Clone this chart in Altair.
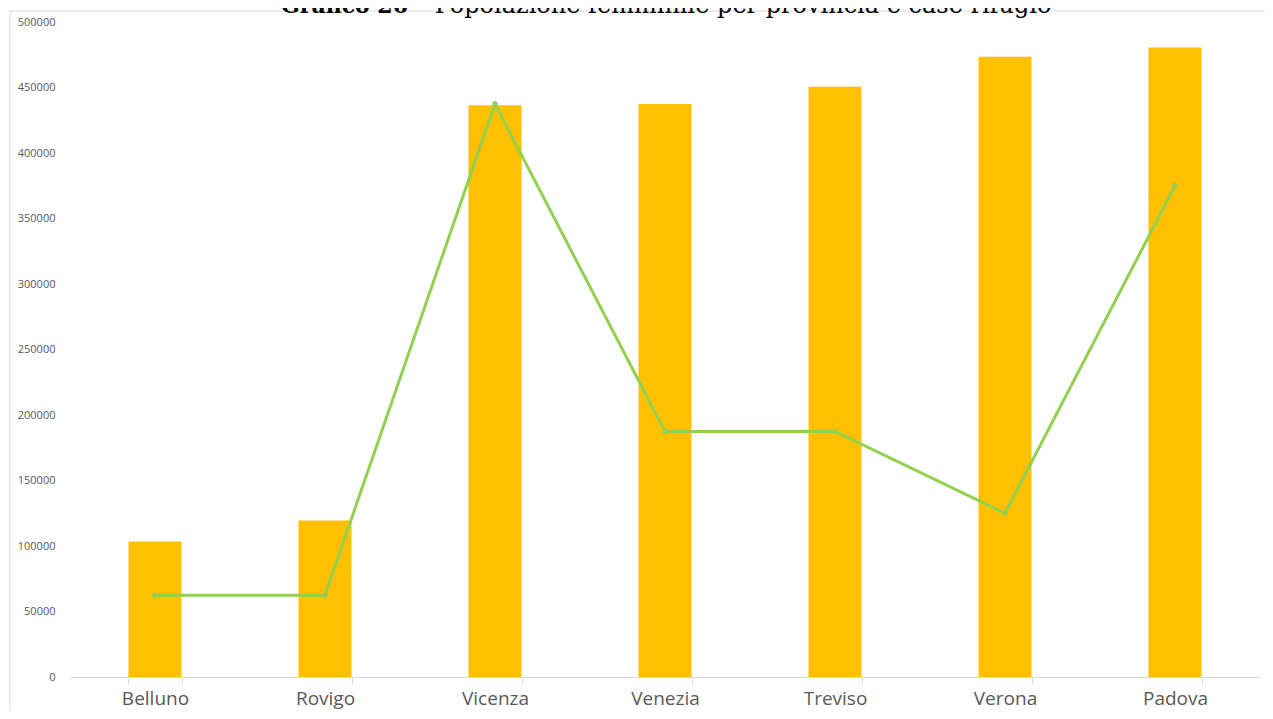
import altair as alt
import pandas as pd

provinces = ["Belluno", "Rovigo", "Vicenza", "Venezia", "Treviso", "Verona", "Padova"]
popolazione = [103500, 119500, 436500, 437500, 450500, 473500, 480500]
case_rifugio = [1, 1, 7, 3, 3, 2, 6]
left_ticks = list(range(0, 500001, 50000))
right_ticks = list(range(0, 9))
title_bold = ["Grafico 26"]
title_rest = ["– Popolazione femminile per provincia e case rifugio"]

df = pd.DataFrame({"Provincia": provinces, "Popolazione": popolazione, "Case": case_rifugio})

GREY = "#595959"
LINE = "#D9D9D9"

x = alt.X(
    "Provincia:N",
    sort=provinces,
    scale=alt.Scale(paddingInner=0.688, paddingOuter=0.344),
    axis=alt.Axis(
        title=None, labelAngle=0, tickBand="extent", ticks=True, tickSize=7,
        tickColor=LINE, domainColor=LINE, labelFont="Open Sans", labelFontSize=19,
        labelColor=GREY, labelPadding=5, grid=False,
    ),
)

base = alt.Chart(df)

bars = base.mark_bar(color="#FFC000").encode(
    x=x,
    y=alt.Y(
        "Popolazione:Q",
        scale=alt.Scale(domain=[0, 500000], nice=False),
        axis=alt.Axis(
            title=None, values=left_ticks, format="d", ticks=False, domain=False,
            labelFont="Open Sans", labelFontSize=11, labelColor=GREY, labelPadding=15,
            grid=False,
        ),
    ),
)

line = base.mark_line(
    color="#92D050", strokeWidth=3,
    point=alt.OverlayMarkDef(color="#92D050", size=30, filled=True),
).encode(
    x=x,
    y=alt.Y(
        "Case:Q",
        scale=alt.Scale(domain=[0, 8], nice=False),
        axis=alt.Axis(
            title=None, orient="right", values=right_ticks, ticks=False, domain=False,
            labelFont="Open Sans", labelFontSize=11, labelColor=GREY, labelPadding=8,
            grid=False,
        ),
    ),
)

frame_top = alt.Chart(pd.DataFrame({"a": [0]})).mark_rule(color=LINE, strokeWidth=1).encode(
    x=alt.value(-60), x2=alt.value(1300), y=alt.value(-11)
)
frame_left = alt.Chart(pd.DataFrame({"a": [0]})).mark_rule(color=LINE, strokeWidth=1).encode(
    x=alt.value(-60), y=alt.value(-11), y2=alt.value(760)
)

t1 = alt.Chart(pd.DataFrame({"t": title_bold})).mark_text(
    font="DejaVu Serif", fontSize=22, fontWeight="bold", color="black",
    align="right", baseline="alphabetic",
).encode(text="t:N", x=alt.value(338), y=alt.value(-9))

t2 = alt.Chart(pd.DataFrame({"t": title_rest})).mark_text(
    font="DejaVu Serif", fontSize=24, color="black",
    align="left", baseline="alphabetic",
).encode(text="t:N", x=alt.value(345), y=alt.value(-9))

chart = (
    alt.layer(frame_top, frame_left, bars, line, t1, t2)
    .resolve_scale(y="independent")
    .properties(
        width=1190,
        height=655,
        autosize=alt.AutoSizeParams(type="none"),
        padding={"left": 62, "top": 14, "right": 5, "bottom": 34},
    )
    .configure_view(stroke=None)
)

chart.save("out.html", embed_options={"renderer": "svg", "actions": False})
